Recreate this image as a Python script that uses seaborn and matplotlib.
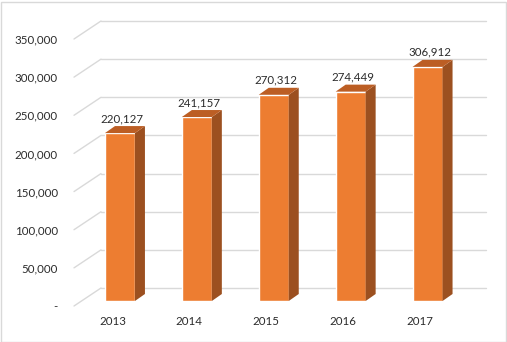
import matplotlib
matplotlib.use("Agg")
import matplotlib.pyplot as plt
from matplotlib.patches import Polygon, Rectangle
from matplotlib.transforms import ScaledTranslation, IdentityTransform
import seaborn as sns
import pandas as pd

years = ["2013", "2014", "2015", "2016", "2017"]
values = [220127, 241157, 270312, 274449, 306912]
tick_values = [0, 50000, 100000, 150000, 200000, 250000, 300000, 350000]
tick_labels = ["-" if t == 0 else f"{t:,}" for t in tick_values]

FRONT = "#ED7D31"
SIDE = "#9C5020"
TOP = "#BC5E24"
GRID = "#D9D9D9"
TEXT = "#2B2B2B"

sns.set_theme(style="white")
plt.rcParams["font.family"] = ["Lato", "DejaVu Sans"]

W_PX, H_PX = 507, 342
fig = plt.figure(figsize=(W_PX / 100, H_PX / 100), dpi=100)
fig.patch.set_facecolor("white")

# axes span the plane of the bars' front faces
left_px, right_px, top_px, bottom_px = 81.5, 466, 34, 301
ax = fig.add_axes([left_px / W_PX, 1 - bottom_px / H_PX,
                   (right_px - left_px) / W_PX, (bottom_px - top_px) / H_PX])

df = pd.DataFrame({"year": years, "value": values})
sns.barplot(data=df, x="year", y="value", color=FRONT, saturation=1,
            width=0.39, ax=ax, zorder=3)
ax.set_xlim(-0.5, len(years) - 0.5)
ax.set_ylim(0, 350000)
for s in ax.spines.values():
    s.set_visible(False)
ax.set_xlabel("")
ax.set_ylabel("")
ax.set_facecolor("none")

# depth offsets in pixels (display coordinates, y up)
floor_front = (-7.5, -5.0)
back_wall = (19.5, 13.0)
bar_depth = (10.0, 7.0)

def px(dx, dy):
    return ScaledTranslation(dx / 100, dy / 100, fig.dpi_scale_trans)

# back wall gridlines and the left-side diagonals
x0, x1 = ax.get_xlim()
for t in tick_values:
    ax.plot([x0, x1], [t, t], color=GRID, lw=1.0, zorder=1, clip_on=False,
            transform=ax.transData + px(*back_wall))
    fx, fy = ax.transData.transform((x0, t))
    ax.add_line(plt.Line2D([fx + floor_front[0], fx + back_wall[0]],
                           [fy + floor_front[1], fy + back_wall[1]],
                           color=GRID, lw=1.0, zorder=1, clip_on=False,
                           transform=IdentityTransform()))

# side and top faces of each bar
dx, dy = bar_depth
for p in list(ax.patches):
    bx, by = p.get_x(), p.get_y()
    bw, bh = p.get_width(), p.get_height()
    (lx, b0), (rx, b1) = ax.transData.transform([(bx, by), (bx + bw, by + bh)])
    side = Polygon([(rx, b0), (rx + dx, b0 + dy), (rx + dx, b1 + dy), (rx, b1)],
                   closed=True, facecolor=SIDE, edgecolor="none",
                   transform=IdentityTransform(), zorder=3, clip_on=False)
    top = Polygon([(lx, b1), (rx, b1), (rx + dx, b1 + dy), (lx + dx, b1 + dy)],
                  closed=True, facecolor=TOP, edgecolor="none",
                  transform=IdentityTransform(), zorder=3, clip_on=False)
    fig.add_artist(side)
    fig.add_artist(top)

# value labels above the bars
for i, v in enumerate(values):
    ax.annotate(f"{v:,}", (i, v), xytext=(2, 9), textcoords="offset pixels",
                ha="center", va="bottom", fontsize=8.3, color=TEXT, zorder=5)

# axis labels sit on the front edge of the floor
ax.set_yticks(tick_values, tick_labels)
ax.tick_params(axis="y", length=0, pad=11.5, labelsize=8.3, labelcolor=TEXT)
ax.tick_params(axis="x", length=0, pad=7, labelsize=8.3, labelcolor=TEXT)
for lab in ax.get_yticklabels() + ax.get_xticklabels():
    lab.set_transform(lab.get_transform() + px(*floor_front))

# chart border
fig.add_artist(Rectangle((0.5 / W_PX, 0.5 / H_PX), 1 - 2 / W_PX, 1 - 2 / H_PX,
                         transform=fig.transFigure, fill=False,
                         edgecolor=GRID, lw=1.0))

fig.savefig("out.png", dpi=100, facecolor="white")
